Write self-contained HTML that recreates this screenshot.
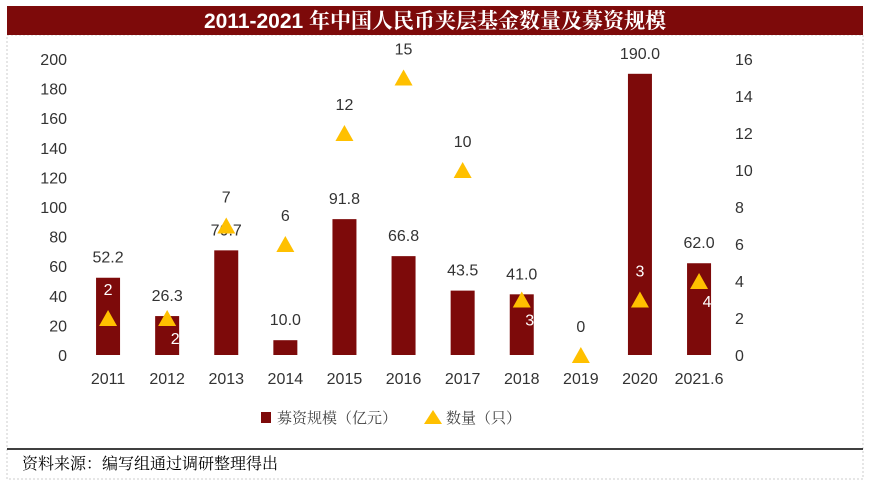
<!DOCTYPE html>
<html><head><meta charset="utf-8"><style>
body{margin:0;background:#fff;width:877px;height:480px;overflow:hidden;font-family:"Liberation Sans","Noto Sans CJK SC",sans-serif}
</style></head><body>
<svg width="877" height="480" xmlns="http://www.w3.org/2000/svg">
<rect x="7" y="35" width="856" height="444" fill="#fff" stroke="#ccc" stroke-dasharray="2,2"/>
<rect x="7" y="6" width="856" height="29" fill="#7d0a0a"/>
<text x="435" y="28" text-anchor="middle" fill="#fff" font-size="21" font-weight="bold" font-family="'Liberation Sans','Noto Serif CJK SC',serif">2011-2021 年中国人民币夹层基金数量及募资规模</text>
<line x1="7" y1="449" x2="863" y2="449" stroke="#000" stroke-width="1.5"/>
<text x="22" y="469" font-size="16" font-family="'Noto Serif CJK SC',serif" fill="#000">资料来源：编写组通过调研整理得出</text>
<g id="axes"></g><g id="bars"></g><g id="tris"></g>
<g>
<rect x="261" y="412" width="10" height="11" fill="#7d0a0a"/>
<text x="277" y="423" font-size="15" fill="#444" font-family="'Noto Serif CJK SC',serif">募资规模（亿元）</text>
<polygon points="424,424 433,410 442,424" fill="#FFC000"/>
<text x="446" y="423" font-size="15" fill="#444" font-family="'Noto Serif CJK SC',serif">数量（只）</text>
</g>
</svg>
<script>
const categories=["2011","2012","2013","2014","2015","2016","2017","2018","2019","2020","2021.6"];
const amounts=[52.2,26.3,70.7,10.0,91.8,66.8,43.5,41.0,0,190.0,62.0];
const counts=[2,2,7,6,12,15,10,3,0,3,4];
const leftTicks=[0,20,40,60,80,100,120,140,160,180,200];
const rightTicks=[0,2,4,6,8,10,12,14,16];
const countLabelPlace=["a","r","a","a","a","a","a","r","a","a","r"];
const NS="http://www.w3.org/2000/svg";
const x0=78.5,step=59.1,yB=355,yT=59;
const xc=i=>x0+step*(i+0.5);
const yl=v=>yB-(v/200)*(yB-yT);
const yr=v=>yB-(v/16)*(yB-yT);
function mk(t,a,txt,p){const e=document.createElementNS(NS,t);for(const k in a)e.setAttribute(k,a[k]);if(txt!=null)e.textContent=txt;document.getElementById(p).appendChild(e);return e;}
leftTicks.forEach(v=>{const e=mk("text",{x:67,y:yl(v)+6,"text-anchor":"end","font-size":16,fill:"#333"},v,"axes");

});
rightTicks.forEach(v=>{const e=mk("text",{x:735,y:yr(v)+6,"font-size":16,fill:"#333"},v,"axes");

});
categories.forEach((c,i)=>{const e=mk("text",{x:xc(i),y:384,"text-anchor":"middle","font-size":16,fill:"#333"},c,"axes");

});
amounts.forEach((v,i)=>{
 if(v>0){const r=mk("rect",{x:xc(i)-12,y:yl(v),width:24,height:yB-yl(v),fill:"#7d0a0a"},null,"bars");
 
 }
 if(v>0){const t=mk("text",{x:xc(i),y:yl(v)-15,"text-anchor":"middle","font-size":16,fill:"#333"},v.toFixed(1),"bars");
 
 }
});
counts.forEach((v,i)=>{
 const x=xc(i),y=yr(v);
 const p=mk("polygon",{points:`${x-9},${y+8} ${x},${y-8} ${x+9},${y+8}`,fill:"#FFC000"},null,"tris");
 
 
 let lx=x,ly=y-23;
 if(countLabelPlace[i]==="r"){lx=x+8;ly=y+26;}
 const inBar=(ly-8>yl(amounts[i])&&amounts[i]>0);
 const t=mk("text",{x:lx,y:ly,"text-anchor":"middle","font-size":16,fill:inBar?"#fff":"#333"},v,"tris");
 
 
});
</script>
</body></html>
